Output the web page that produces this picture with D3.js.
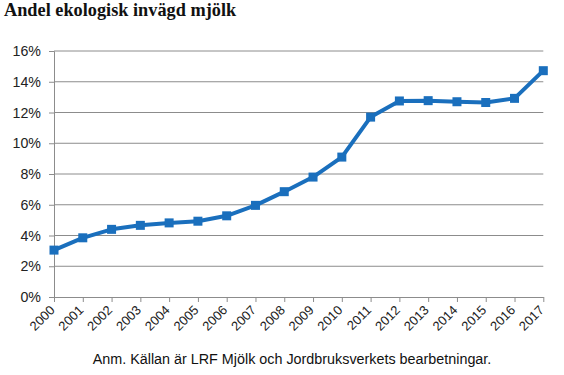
<!DOCTYPE html>
<html><head><meta charset="utf-8">
<script src="https://cdn.jsdelivr.net/npm/d3@7"></script>
<style>body{margin:0;background:#fff}svg{display:block}</style>
</head><body>
<script>
const years = [2000,2001,2002,2003,2004,2005,2006,2007,2008,2009,2010,2011,2012,2013,2014,2015,2016,2017];
const share = [3.05,3.85,4.4,4.66,4.82,4.93,5.28,5.96,6.85,7.8,9.1,11.7,12.75,12.77,12.7,12.65,12.92,14.72];
const yTicks = [0,2,4,6,8,10,12,14,16];
const title = "Andel ekologisk invägd mjölk";
const note = "Anm. Källan är LRF Mjölk och Jordbruksverkets bearbetningar.";

const W=564,H=375;
const svg=d3.select("body").append("svg").attr("width",W).attr("height",H);
const x=d3.scalePoint().domain(years).range([54,543.3]);
const y=d3.scaleLinear().domain([0,16]).range([297,51]);

svg.append("text").attr("x",4).attr("y",16).attr("font-family","Liberation Serif, Times New Roman, serif")
  .attr("font-weight","bold").attr("font-size",18.3).attr("fill","#111").text(title);

// gridlines
svg.append("g").selectAll("line").data(yTicks.filter(d=>d>0)).join("line")
  .attr("x1",54).attr("x2",543.3).attr("y1",d=>y(d)).attr("y2",d=>y(d))
  .attr("stroke","#8c8c8c").attr("stroke-width",1);

const yAxis=svg.append("g").attr("transform","translate(54,0)")
  .call(d3.axisLeft(y).tickValues(yTicks).tickSize(5).tickFormat(d=>d+"%"));
yAxis.select(".domain").attr("stroke","#8c8c8c");
yAxis.selectAll(".tick line").attr("stroke","#8c8c8c");
yAxis.selectAll("text").attr("font-family","Liberation Sans, Arial, sans-serif").attr("font-size",14.2).attr("fill","#222").attr("x",-13);

const xAxis=svg.append("g").attr("transform","translate(0,297)")
  .call(d3.axisBottom(x).tickSize(5).tickSizeOuter(0));
xAxis.select(".domain").attr("stroke","#8c8c8c");
xAxis.selectAll(".tick line").attr("stroke","#8c8c8c");
xAxis.selectAll("text").attr("font-family","Liberation Sans, Arial, sans-serif").attr("font-size",13).attr("fill","#222")
  .attr("text-anchor","end").attr("dy",null).attr("y",0)
  .attr("transform","translate(1,14) rotate(-45)");

const data=years.map((yr,i)=>({yr,v:share[i]}));
svg.append("path").datum(data).attr("fill","none").attr("stroke","#1a6fbd").attr("stroke-width",4)
  .attr("stroke-linejoin","round")
  .attr("d",d3.line().x(d=>x(d.yr)).y(d=>y(d.v)));
svg.append("g").selectAll("rect").data(data).join("rect")
  .attr("x",d=>x(d.yr)-4.5).attr("y",d=>y(d.v)-4.5).attr("width",9).attr("height",9).attr("fill","#1a6fbd");

svg.append("text").attr("x",292).attr("y",364).attr("text-anchor","middle")
  .attr("font-family","Liberation Sans, Arial, sans-serif").attr("font-size",14.35).attr("fill","#111").text(note);
</script>
</body></html>
